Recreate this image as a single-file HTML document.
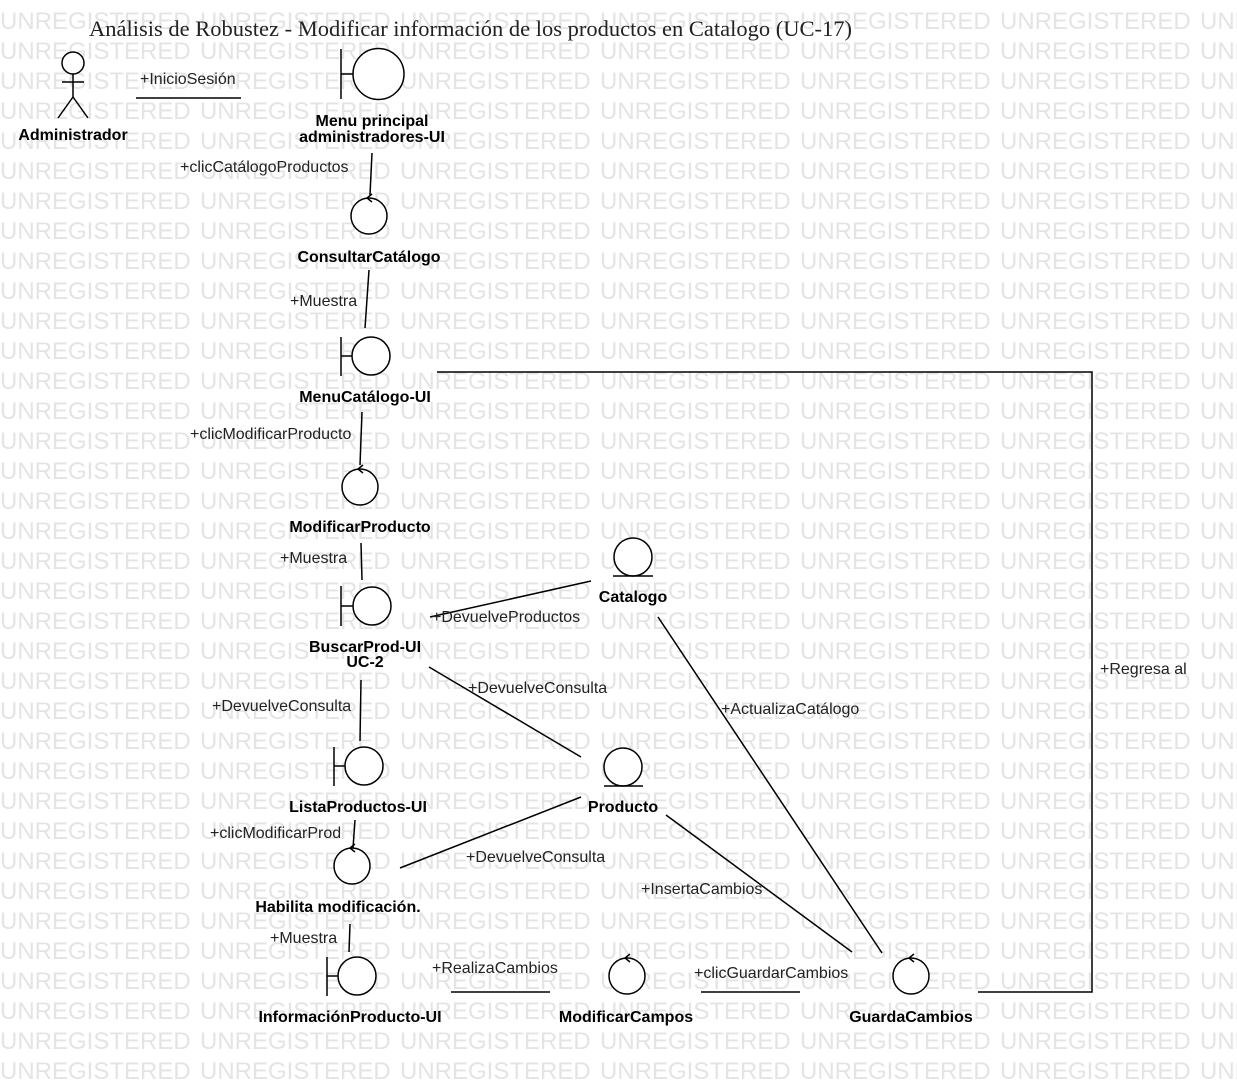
<!DOCTYPE html>
<html><head><meta charset="utf-8"><style>body{margin:0;background:#fff}svg{display:block}</style></head><body>
<svg width="1237" height="1082" xmlns="http://www.w3.org/2000/svg" font-family="Liberation Sans, Arial, sans-serif">
<defs><pattern id="wm" x="0" y="0" width="200" height="30" patternUnits="userSpaceOnUse">
<text x="0" y="29" font-size="24" fill="#e4e4e4">UNREGISTERED</text></pattern></defs>
<rect width="1237" height="1082" fill="url(#wm)"/>
<text x="89" y="36" font-family="Liberation Serif, serif" font-size="22.5" fill="#222">Análisis de Robustez - Modificar información de los productos en Catalogo (UC-17)</text>
<g stroke="#000" stroke-width="1.5" fill="none">
<circle cx="73" cy="63" r="11" fill="#fff"/><line x1="73" y1="74" x2="73" y2="97"/><line x1="62" y1="82" x2="84" y2="82"/><line x1="73" y1="97" x2="58" y2="118"/><line x1="73" y1="97" x2="88" y2="118"/>
<line x1="136" y1="98" x2="241" y2="98"/>
<circle cx="378.5" cy="74" r="25.5" fill="#fff"/><line x1="341" y1="49" x2="341" y2="99"/><line x1="341" y1="74" x2="353" y2="74"/>
<line x1="372" y1="153" x2="370" y2="195"/>
<circle cx="369" cy="216" r="18" fill="#fff"/><path d="M372 194 L367 198 L372 202"/>
<line x1="369" y1="270" x2="365" y2="328"/>
<circle cx="371" cy="356" r="19" fill="#fff"/><line x1="341" y1="337" x2="341" y2="376"/><line x1="341" y1="356" x2="352" y2="356"/>
<polyline points="437,372 1092,372 1092,992 978,992"/>
<line x1="362" y1="412" x2="360" y2="465"/>
<circle cx="360" cy="487" r="18" fill="#fff"/><path d="M363 465 L358 469 L363 473"/>
<line x1="361" y1="543" x2="362" y2="580"/>
<circle cx="372" cy="606" r="19" fill="#fff"/><line x1="341" y1="586" x2="341" y2="626"/><line x1="341" y1="606" x2="353" y2="606"/>
<circle cx="633" cy="557" r="19" fill="#fff"/><line x1="613" y1="576" x2="653" y2="576"/>
<line x1="591" y1="581" x2="430" y2="617"/>
<line x1="429" y1="667" x2="581" y2="757"/>
<line x1="361" y1="680" x2="360" y2="741"/>
<circle cx="364" cy="766" r="19" fill="#fff"/><line x1="334" y1="747" x2="334" y2="786"/><line x1="334" y1="766" x2="345" y2="766"/>
<circle cx="623" cy="767" r="19" fill="#fff"/><line x1="604" y1="786" x2="643" y2="786"/>
<line x1="581" y1="797" x2="400" y2="868"/>
<line x1="355" y1="820" x2="353" y2="848"/>
<circle cx="352" cy="866" r="18" fill="#fff"/><path d="M355 844 L350 848 L355 852"/>
<line x1="350" y1="924" x2="349" y2="952"/>
<circle cx="357" cy="976" r="19" fill="#fff"/><line x1="327" y1="957" x2="327" y2="996"/><line x1="327" y1="976" x2="338" y2="976"/>
<line x1="451" y1="992" x2="550" y2="992"/>
<circle cx="627" cy="976" r="18" fill="#fff"/><path d="M630 954 L625 958 L630 962"/>
<line x1="701" y1="992" x2="800" y2="992"/>
<circle cx="911" cy="976" r="18" fill="#fff"/><path d="M914 954 L909 958 L914 962"/>
<line x1="658" y1="617" x2="882" y2="953"/>
<line x1="666" y1="815" x2="852" y2="952"/>
</g>
<g font-size="16" font-weight="bold" fill="#000" text-anchor="middle">
<text x="73" y="140">Administrador</text>
<text x="372" y="126">Menu principal</text><text x="372" y="142">administradores-UI</text>
<text x="369" y="262">ConsultarCatálogo</text>
<text x="365" y="402">MenuCatálogo-UI</text>
<text x="360" y="532">ModificarProducto</text>
<text x="365" y="652">BuscarProd-UI</text><text x="365" y="667">UC-2</text>
<text x="633" y="602">Catalogo</text>
<text x="358" y="812">ListaProductos-UI</text>
<text x="623" y="812">Producto</text>
<text x="338" y="912">Habilita modificación.</text>
<text x="350" y="1022">InformaciónProducto-UI</text>
<text x="626" y="1022">ModificarCampos</text>
<text x="911" y="1022">GuardaCambios</text>
</g>
<g font-size="16" fill="#222">
<text x="140" y="84">+InicioSesión</text>
<text x="180" y="172">+clicCatálogoProductos</text>
<text x="290" y="306">+Muestra</text>
<text x="190" y="439">+clicModificarProducto</text>
<text x="280" y="563">+Muestra</text>
<text x="432" y="622">+DevuelveProductos</text>
<text x="468" y="693">+DevuelveConsulta</text>
<text x="212" y="711">+DevuelveConsulta</text>
<text x="721" y="714">+ActualizaCatálogo</text>
<text x="1100" y="674">+Regresa al</text>
<text x="210" y="838">+clicModificarProd</text>
<text x="466" y="862">+DevuelveConsulta</text>
<text x="641" y="894">+InsertaCambios</text>
<text x="270" y="943">+Muestra</text>
<text x="432" y="973">+RealizaCambios</text>
<text x="694" y="978">+clicGuardarCambios</text>
</g>
</svg>
</body></html>
